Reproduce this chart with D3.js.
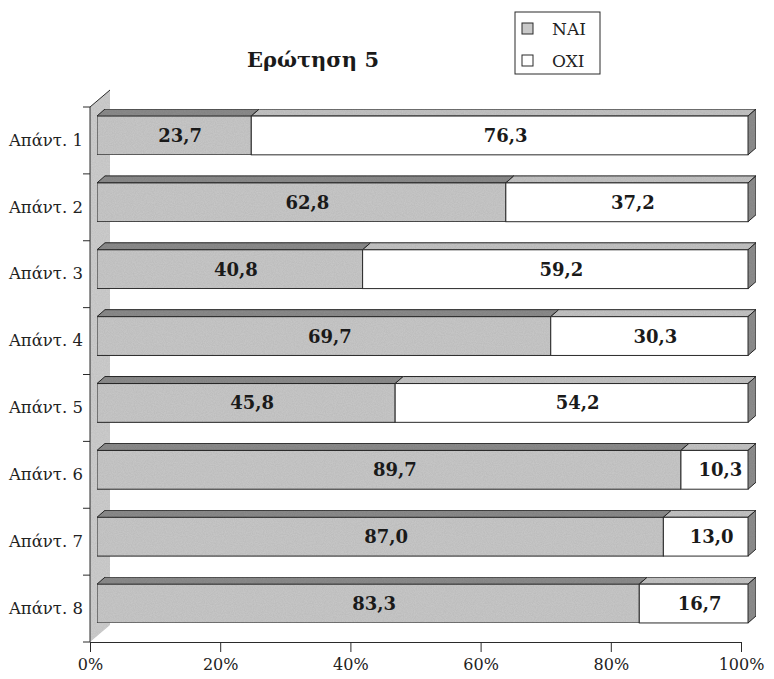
<!DOCTYPE html>
<html>
<head>
<meta charset="utf-8">
<script src="https://cdn.jsdelivr.net/npm/d3@7"></script>
<style>
  html, body { margin: 0; padding: 0; background: #fff; }
  svg { display: block; }
</style>
</head>
<body>
<svg id="chart" width="774" height="679"></svg>
<script>
// Survey answers, question 5: share of ΝΑΙ / ΟΧΙ per answer (percent)
const categories = ["Απάντ. 1", "Απάντ. 2", "Απάντ. 3", "Απάντ. 4", "Απάντ. 5", "Απάντ. 6", "Απάντ. 7", "Απάντ. 8"];
const naiValues = [23.7, 62.8, 40.8, 69.7, 45.8, 89.7, 87.0, 83.3];
const oxiValues = [76.3, 37.2, 59.2, 30.3, 54.2, 10.3, 13.0, 16.7];
const seriesNames = ["NAI", "OXI"];
const xTicks = [0, 20, 40, 60, 80, 100];
const titleText = "Ερώτηση 5";

const svg = d3.select("#chart");
const serif = "'DejaVu Serif', 'Liberation Serif', serif";

const x = d3.scaleLinear().domain([0, 100]).range([90, 741]);
const y = d3.scaleBand().domain(categories).range([107, 642]).paddingInner(0.42).paddingOuter(0.21);

// 3D offsets: the wall depth, the bar's placement inside it, the bar's own depth
const wall = { dx: 20, dy: -17 };
const barShift = { dx: 7, dy: -5 };
const depth = { dx: 8, dy: -7 };

const colors = {
  naiFront: "#c9c9c9", naiTop: "#8c8c8c",
  oxiFront: "#ffffff", oxiTop: "#c4c4c4",
  side: "#8f8f8f", wall: "#cfcfcf", stroke: "#2a2a2a"
};

// grain texture for the gray faces
const defs = svg.append("defs");
const flt = defs.append("filter").attr("id", "grain").attr("x", 0).attr("y", 0).attr("width", 1).attr("height", 1);
flt.append("feTurbulence").attr("type", "fractalNoise").attr("baseFrequency", 0.9).attr("numOctaves", 2).attr("seed", 3).attr("result", "n");
flt.append("feColorMatrix").attr("in", "n").attr("type", "matrix")
  .attr("values", "0 0 0 0 0  0 0 0 0 0  0 0 0 0 0  0 0 0 0.16 0").attr("result", "a");
flt.append("feComposite").attr("in", "a").attr("in2", "SourceGraphic").attr("operator", "in").attr("result", "b");
flt.append("feMerge").selectAll("feMergeNode").data(["SourceGraphic", "b"]).join("feMergeNode").attr("in", d => d);

const poly = pts => "M" + pts.map(p => p.join(",")).join("L") + "Z";

// Back wall on the left
const [yTop, yBot] = y.range();
svg.append("path")
  .attr("d", poly([[x(0), yTop], [x(0) + wall.dx, yTop + wall.dy], [x(0) + wall.dx, yBot + wall.dy], [x(0), yBot]]))
  .attr("fill", colors.wall).attr("filter", "url(#grain)");
svg.append("line")
  .attr("x1", x(0)).attr("y1", yTop).attr("x2", x(0) + wall.dx).attr("y2", yTop + wall.dy)
  .attr("stroke", colors.stroke).attr("stroke-width", 1);

// Bars
const rows = categories.map((c, i) => ({ cat: c, nai: naiValues[i], oxi: oxiValues[i] }));
const fmt = v => d3.format(".1f")(v).replace(".", ",");

const bars = svg.append("g").selectAll("g").data(rows).join("g");
bars.each(function(d) {
  const g = d3.select(this);
  const y0 = y(d.cat) + barShift.dy;
  const h = y.bandwidth();
  const segs = [
    { v0: 0, v1: d.nai, front: colors.naiFront, top: colors.naiTop, val: d.nai },
    { v0: d.nai, v1: d.nai + d.oxi, front: colors.oxiFront, top: colors.oxiTop, val: d.oxi }
  ];
  segs.forEach(s => {
    const xa = x(s.v0) + barShift.dx, xb = x(s.v1) + barShift.dx;
    g.append("path")
      .attr("d", poly([[xa, y0], [xa + depth.dx, y0 + depth.dy], [xb + depth.dx, y0 + depth.dy], [xb, y0]]))
      .attr("fill", s.top).attr("stroke", colors.stroke).attr("stroke-width", 1)
      .attr("filter", "url(#grain)");
    g.append("rect")
      .attr("x", xa).attr("y", y0).attr("width", xb - xa).attr("height", h)
      .attr("fill", s.front).attr("stroke", colors.stroke).attr("stroke-width", 1)
      .attr("filter", s.front === "#ffffff" ? null : "url(#grain)");
    g.append("text")
      .attr("x", (xa + xb) / 2 + 6).attr("y", y0 + h / 2)
      .attr("dy", "0.36em").attr("text-anchor", "middle")
      .attr("font-family", serif).attr("font-weight", "bold").attr("font-size", 18)
      .attr("fill", "#1a1a1a")
      .text(fmt(s.val));
  });
  const xe = x(d.nai + d.oxi) + barShift.dx;
  g.append("path")
    .attr("d", poly([[xe, y0], [xe + depth.dx, y0 + depth.dy], [xe + depth.dx, y0 + h + depth.dy], [xe, y0 + h]]))
    .attr("fill", colors.side).attr("stroke", colors.stroke).attr("stroke-width", 1)
    .attr("filter", "url(#grain)");
});

// X axis
const xAxis = svg.append("g")
  .attr("transform", `translate(0,${yBot})`)
  .call(d3.axisBottom(x).tickValues(xTicks).tickFormat(d => d + "%").tickSizeInner(10).tickSizeOuter(0).tickPadding(7));
xAxis.select(".domain").attr("stroke", colors.stroke);
xAxis.selectAll(".tick line").attr("stroke", colors.stroke);
xAxis.selectAll("text").attr("font-family", serif).attr("font-size", 16).attr("fill", "#222");

// Y axis: labels at band centres, ticks at band boundaries
const yAxis = svg.append("g")
  .attr("transform", `translate(${x(0)},0)`)
  .call(d3.axisLeft(y).tickSize(0).tickPadding(7));
yAxis.select(".domain").remove();
yAxis.selectAll("text").attr("font-family", serif).attr("font-size", 16.5).attr("fill", "#222");
svg.append("line")
  .attr("x1", x(0)).attr("y1", yTop).attr("x2", x(0)).attr("y2", yBot)
  .attr("stroke", colors.stroke);
const step = y.step();
svg.append("g").selectAll("line")
  .data(d3.range(categories.length + 1))
  .join("line")
  .attr("x1", x(0) - 7).attr("x2", x(0))
  .attr("y1", i => yTop + i * step).attr("y2", i => yTop + i * step)
  .attr("stroke", colors.stroke);

// Title
svg.append("text")
  .attr("x", 313).attr("y", 67).attr("text-anchor", "middle")
  .attr("font-family", serif).attr("font-weight", "bold").attr("font-size", 21)
  .attr("fill", "#1a1a1a")
  .text(titleText);

// Legend
const legend = svg.append("g").attr("transform", "translate(515,12)");
legend.append("rect").attr("width", 85).attr("height", 62)
  .attr("fill", "#fff").attr("stroke", colors.stroke).attr("stroke-width", 1);
const legendFill = [colors.naiFront, colors.oxiFront];
seriesNames.forEach((name, i) => {
  const row = legend.append("g").attr("transform", `translate(7,${11 + i * 32})`);
  row.append("rect").attr("width", 11).attr("height", 11)
    .attr("fill", legendFill[i]).attr("stroke", colors.stroke);
  row.append("text").attr("x", 30).attr("y", 6).attr("dy", "0.36em")
    .attr("font-family", serif).attr("font-size", 17).attr("fill", "#222")
    .text(name);
});
</script>
</body>
</html>
